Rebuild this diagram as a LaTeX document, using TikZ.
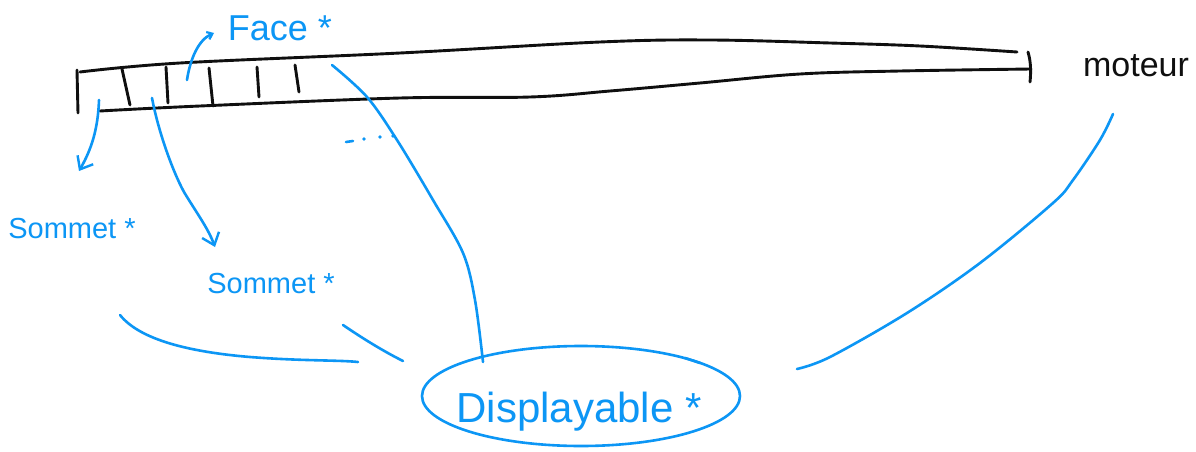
\documentclass[tikz,border=0pt]{standalone}
\usepackage{fontspec}
\setmainfont{Liberation Sans}
\usetikzlibrary{arrows.meta,shapes.geometric}
\definecolor{ink}{RGB}{15,15,15}
\definecolor{pen}{RGB}{12,150,245}
\tikzset{
  barline/.style={draw=ink,line width=2.9pt,line cap=round,line join=round},
  penline/.style={draw=pen,line width=2.6pt,line cap=round,line join=round},
  penarrow/.style={penline,-{Straight Barb[length=11pt,width=18pt,line width=2.4pt]}},
  note/.style={text=pen,anchor=base,inner sep=0pt},
}
\begin{document}
\begin{tikzpicture}[x=1pt,y=-1pt]
\fill[white] (0,0) rectangle (1196,452);
\useasboundingbox (0,0) rectangle (1196,452);

% the long bar (array of faces)
\draw[barline] plot[smooth,tension=0.6] coordinates {(80,72) (180,63) (400,53) (600,42) (710,40) (830,43) (920,46) (1017,52)};
\draw[barline] plot[smooth,tension=0.6] coordinates {(100,111) (200,106) (400,98) (530,97) (610,91) (700,83) (800,74) (900,71) (1031,69)};
\draw[barline] (77,70) -- (78,113);
\draw[barline] (1028,52) .. controls (1031,62) and (1031,72) .. (1030,82);
% cell separators
\draw[barline] (122,69) -- (130,105);
\draw[barline] (166,67) -- (168,103);
\draw[barline] (209,68) -- (213,106);
\draw[barline] (257,67) -- (259,97);
\draw[barline] (295,65) -- (299,92);

% anchor points on the bar
\coordinate (f0) at (187,80);
\coordinate (s1a) at (99,100);
\coordinate (s2a) at (152,98);
\coordinate (g0) at (332,65);

% labels
\node[note,font=\fontsize{36}{40}\selectfont] (face) at (280,41) {Face *};
\node[note,text=ink,font=\fontsize{34}{38}\selectfont] (moteur) at (1136,77) {moteur};
\node[note,font=\fontsize{29}{33}\selectfont] (som1) at (72,238) {Sommet *};
\node[note,font=\fontsize{29}{33}\selectfont] (som2) at (271,293) {Sommet *};
\node[draw=pen,line width=2.6pt,ellipse,minimum width=318pt,minimum height=100pt] (disp) at (581,396) {};
\node[note,font=\fontsize{42}{46}\selectfont] (disptext) at (579,422) {Displayable *};

% arrow ends and free ends
\coordinate (f1) at (214,33);
\coordinate (s1b) at (79,171);
\coordinate (s2b) at (215,247);
\coordinate (g1) at (483,362);
\coordinate (m0) at (1113,114);
\coordinate (m1) at (797,369);
\coordinate (c0) at (120,315);
\coordinate (c1) at (358,362);
\coordinate (d0) at (343,325);
\coordinate (d1) at (403,361);

% connectors
\draw[penline,-{Straight Barb[length=5pt,width=8pt,line width=2.2pt]}] (f0) .. controls (190,60) and (198,40) .. (f1);
\draw[penarrow] (s1a) .. controls (98,130) and (91,150) .. (s1b);
\draw[penarrow] (s2a) .. controls (158,130) and (172,170) .. (184,192) .. controls (196,212) and (208,228) .. (s2b);
\draw[penline] plot[smooth,tension=0.55] coordinates {(g0) (367,97) (397,140) (433,200) (463,253) (475,300) (g1)};
\draw[penline] plot[smooth,tension=0.55] coordinates {(m0) (1100,140) (1073,180) (1053,203) (980,263) (907,313) (830,357) (m1)};
\draw[penline] (c0) .. controls (140,340) and (190,352) .. (250,357) .. controls (300,361) and (340,360) .. (c1);
\draw[penline] (d0) .. controls (365,340) and (385,352) .. (d1);
\draw[penline] (685,358) -- (700,363);

% continuation marks
\draw[penline] (346,142) -- (353,141);
\fill[pen] (364,139) circle (1.8) (380,137) circle (1.8) (393,136) circle (1.8);
\end{tikzpicture}
\end{document}
